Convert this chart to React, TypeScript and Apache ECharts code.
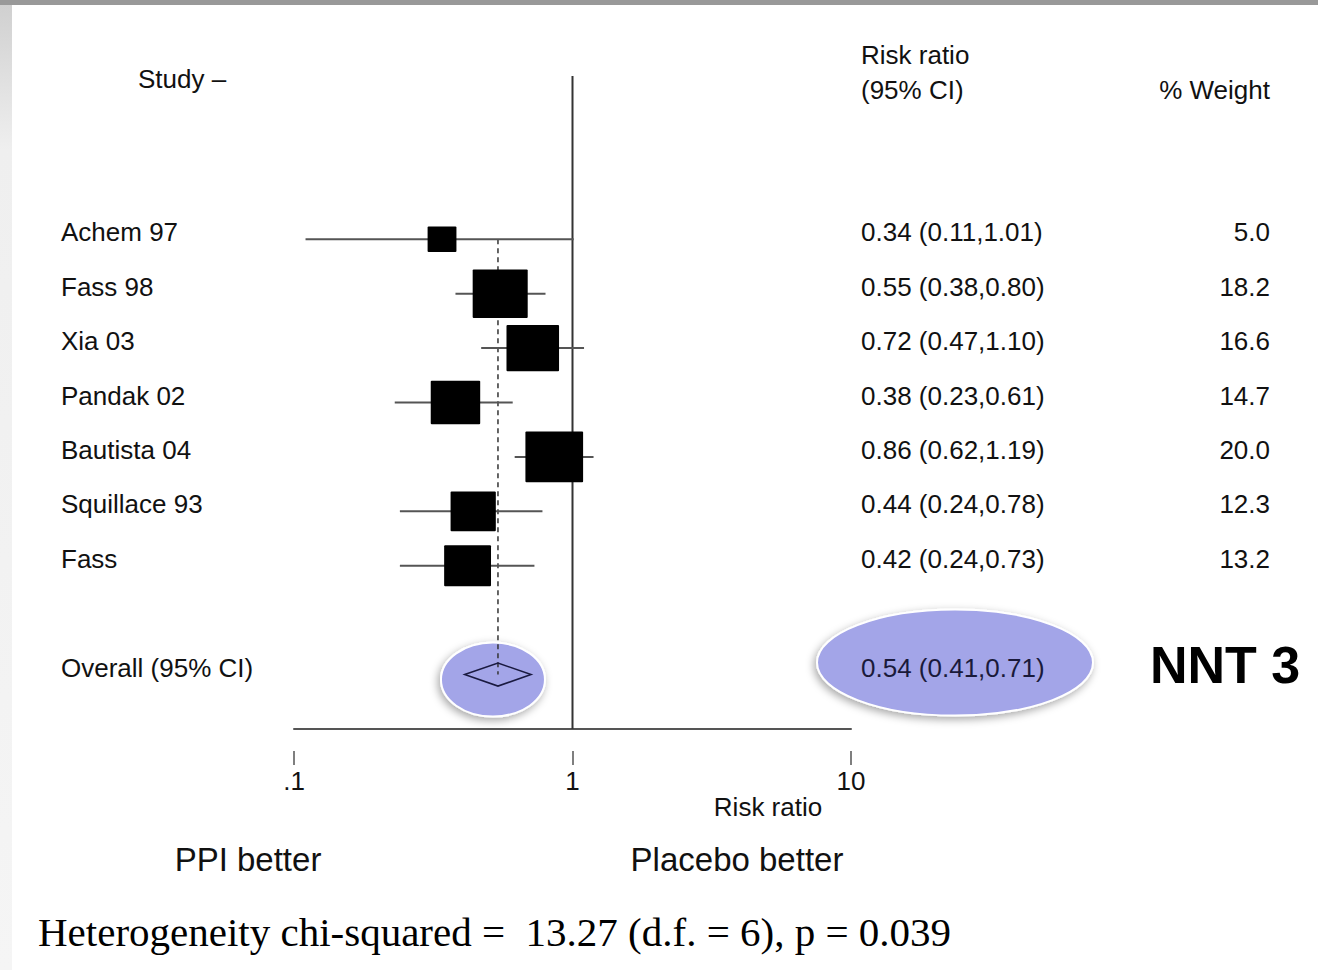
import React, { useEffect, useRef } from "react";
import * as echarts from "echarts";

// ---- data ----
const studies = ["Achem 97", "Fass 98", "Xia 03", "Pandak 02", "Bautista 04", "Squillace 93", "Fass"];
const riskRatio = [0.34, 0.55, 0.72, 0.38, 0.86, 0.44, 0.42];
const ciLow = [0.11, 0.38, 0.47, 0.23, 0.62, 0.24, 0.24];
const ciHigh = [1.01, 0.8, 1.1, 0.61, 1.19, 0.78, 0.73];
const weights = [5.0, 18.2, 16.6, 14.7, 20.0, 12.3, 13.2];
const studyRows = [0, 1, 2, 3, 4, 5, 6];
const overallLabel = "Overall (95% CI)";
const overallRR = 0.54;
const overallLow = 0.41;
const overallHigh = 0.71;
const overallRow = 8;
const xTicks = [0.1, 1, 10];
const xTickLabels = [".1", "1", "10"];

const SANS = "'Liberation Sans', Arial, Helvetica, sans-serif";
const SERIF = "'Liberation Serif', 'Times New Roman', serif";
const TXT = "#111";
const FS = 26;

const fmt2 = (v: number) => v.toFixed(2);

export default function App() {
  const ref = useRef<HTMLDivElement>(null);
  useEffect(() => {
    if (!ref.current) return;
    const chart = echarts.init(ref.current, null, { renderer: "svg" });

    const studyData = riskRatio.map((r, i) => [r, ciLow[i], ciHigh[i], weights[i], studyRows[i], i]);
    const overallData = [[overallRR, overallLow, overallHigh, overallRow]];

    const textStyle = (text: string, align: string, size = FS) => ({
      text,
      fill: TXT,
      fontSize: size,
      fontFamily: SANS,
      textAlign: align,
      textVerticalAlign: "middle",
    });

    const option: any = {
      animation: false,
      backgroundColor: "#fff",
      grid: { left: 294, right: 1318 - 851, top: 76, bottom: 970 - 729 },
      xAxis: [
        {
          type: "log",
          logBase: 10,
          min: xTicks[0],
          max: xTicks[xTicks.length - 1],
          axisLine: { show: true, onZero: false, lineStyle: { color: "#555", width: 2 } },
          axisTick: { show: false },
          axisLabel: { show: false },
          splitLine: { show: false },
        },
        {
          type: "log",
          logBase: 10,
          min: xTicks[0],
          max: xTicks[xTicks.length - 1],
          position: "bottom",
          offset: 22,
          axisLine: { show: false, onZero: false },
          axisTick: { show: true, length: 14, lineStyle: { color: "#555", width: 1.5 } },
          axisLabel: {
            show: true,
            margin: 17,
            fontSize: FS,
            fontFamily: SANS,
            color: TXT,
            formatter: (v: number) => {
              const idx = xTicks.findIndex((t) => Math.abs(t - v) < 1e-9);
              return idx >= 0 ? xTickLabels[idx] : "";
            },
          },
          splitLine: { show: false },
        },
      ],
      yAxis: { type: "value", min: -3, max: 9, inverse: true, show: false },
      series: [
        // highlight ellipses
        {
          type: "custom",
          z: 1,
          silent: true,
          data: overallData,
          encode: { x: [0, 1, 2], y: 3 },
          renderItem: (params: any, api: any) => {
            const c = api.coord([api.value(0), api.value(3)]);
            const sh = {
              fill: "#a3a5e8",
              stroke: "#ffffff",
              lineWidth: 2,
              shadowBlur: 8,
              shadowOffsetX: -2,
              shadowOffsetY: 3,
              shadowColor: "rgba(0,0,0,0.35)",
            };
            return {
              type: "group",
              children: [
                { type: "ellipse", shape: { cx: c[0] - 5, cy: c[1] + 5, rx: 52, ry: 37 }, style: sh },
                { type: "ellipse", shape: { cx: 955, cy: c[1] - 12, rx: 138, ry: 53 }, style: sh },
              ],
            };
          },
        },
        // line of no effect
        {
          type: "line",
          z: 2,
          symbol: "none",
          silent: true,
          data: [
            [1, -3],
            [1, 9],
          ],
          lineStyle: { color: "#333", width: 2 },
        },
        // dashed overall line
        {
          type: "line",
          z: 2,
          symbol: "none",
          silent: true,
          data: [
            [overallRR, studyRows[0]],
            [overallRR, overallRow],
          ],
          lineStyle: { color: "#333", width: 1.5, type: [5, 4] },
        },
        // study CIs and boxes
        {
          type: "custom",
          z: 3,
          data: studyData,
          encode: { x: [0, 1, 2], y: 4 },
          renderItem: (params: any, api: any) => {
            const row = api.value(4);
            const c = api.coord([api.value(0), row]);
            const l = api.coord([api.value(1), row]);
            const h = api.coord([api.value(2), row]);
            const side = 12.9 * Math.sqrt(api.value(3));
            const ht = side * 0.88;
            return {
              type: "group",
              children: [
                { type: "line", shape: { x1: l[0], y1: l[1], x2: h[0], y2: h[1] }, style: { stroke: "#555", lineWidth: 2 } },
                {
                  type: "rect",
                  shape: { x: c[0] - side / 2, y: c[1] - ht / 2, width: side, height: ht, r: 1 },
                  style: { fill: "#000" },
                },
              ],
            };
          },
        },
        // overall diamond
        {
          type: "custom",
          z: 4,
          data: overallData,
          encode: { x: [0, 1, 2], y: 3 },
          renderItem: (params: any, api: any) => {
            const row = api.value(3);
            const c = api.coord([api.value(0), row]);
            const l = api.coord([api.value(1), row]);
            const h = api.coord([api.value(2), row]);
            return {
              type: "polygon",
              shape: {
                points: [
                  [l[0], c[1]],
                  [c[0], c[1] - 11.5],
                  [h[0], c[1]],
                  [c[0], c[1] + 11.5],
                ],
              },
              style: { fill: "none", stroke: "#1a1a40", lineWidth: 1.5 },
            };
          },
        },
        // table text for studies
        {
          type: "custom",
          z: 5,
          clip: false,
          data: studyData,
          encode: { x: [0, 1, 2], y: 4 },
          renderItem: (params: any, api: any) => {
            const i = api.value(5);
            const c = api.coord([1, api.value(4)]);
            const y = c[1] - 7;
            return {
              type: "group",
              children: [
                { type: "text", x: 61, y, style: textStyle(studies[i], "left") },
                {
                  type: "text",
                  x: 861,
                  y,
                  style: textStyle(`${fmt2(riskRatio[i])} (${fmt2(ciLow[i])},${fmt2(ciHigh[i])})`, "left"),
                },
                { type: "text", x: 1270, y, style: textStyle(weights[i].toFixed(1), "right") },
              ],
            };
          },
        },
        // table text for overall
        {
          type: "custom",
          z: 5,
          clip: false,
          data: overallData,
          encode: { x: [0, 1, 2], y: 3 },
          renderItem: (params: any, api: any) => {
            const c = api.coord([1, api.value(3)]);
            const y = c[1] - 7;
            return {
              type: "group",
              children: [
                { type: "text", x: 61, y, style: textStyle(overallLabel, "left") },
                {
                  type: "text",
                  x: 861,
                  y,
                  style: { ...textStyle(`${fmt2(overallRR)} (${fmt2(overallLow)},${fmt2(overallHigh)})`, "left"), fill: "#1a1a3a" },
                },
              ],
            };
          },
        },
      ],
      graphic: [
        { type: "rect", z: 0, shape: { x: 0, y: 0, width: 1318, height: 5 }, style: { fill: "#999" } },
        {
          type: "rect",
          z: 0,
          shape: { x: 0, y: 5, width: 12, height: 965 },
          style: {
            fill: new echarts.graphic.LinearGradient(0, 0, 0, 1, [
              { offset: 0, color: "#d0d0d0" },
              { offset: 0.15, color: "#efefef" },
              { offset: 1, color: "#f5f5f5" },
            ]),
          },
        },
        { type: "text", x: 138, y: 79, style: textStyle("Study \u2013", "left") },
        { type: "text", x: 861, y: 55, style: textStyle("Risk ratio", "left") },
        { type: "text", x: 861, y: 90, style: textStyle("(95% CI)", "left") },
        { type: "text", x: 1270, y: 90, style: textStyle("% Weight", "right") },
        { type: "text", x: 768, y: 807, style: textStyle("Risk ratio", "center") },
        { type: "text", x: 248, y: 859, style: textStyle("PPI better", "center", 33) },
        { type: "text", x: 737, y: 859, style: textStyle("Placebo better", "center", 33) },
        {
          type: "text",
          x: 1150,
          y: 665,
          style: { ...textStyle("NNT 3", "left", 52), fontWeight: "bold", fill: "#000" },
        },
        {
          type: "text",
          x: 38,
          y: 932,
          style: {
            text: "Heterogeneity chi-squared =\u00a0 13.27 (d.f. = 6), p = 0.039",
            fill: "#000",
            fontSize: 41,
            fontFamily: SERIF,
            textAlign: "left",
            textVerticalAlign: "middle",
          },
        },
      ],
    };

    chart.setOption(option);
    return () => chart.dispose();
  }, []);

  return <div ref={ref} style={{ position: "fixed", left: 0, top: 0, width: 1318, height: 970 }} />;
}
